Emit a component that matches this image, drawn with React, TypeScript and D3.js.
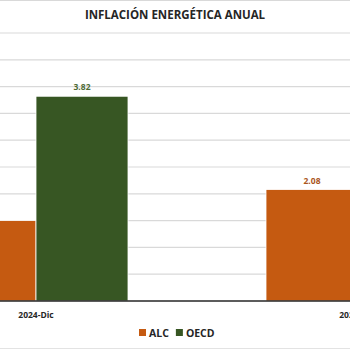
import { useEffect, useRef } from 'react';
import * as d3 from 'd3';

const categories = ['2024-Dic', '2025-Ene'];
const seriesNames = ['ALC', 'OECD'];
const alcValues = [1.5, 2.08];
const oecdValues = [3.82, 1.2];
const yTicks = [0, 0.5, 1, 1.5, 2, 2.5, 3, 3.5, 4, 4.5, 5];

const colors: Record<string, string> = {
  ALC: '#C55A11',
  OECD: '#375623'
};

export default function App() {
  const svgRef = useRef<SVGSVGElement>(null);

  useEffect(() => {
    if (!svgRef.current) return;
    const svg = d3.select(svgRef.current);
    svg.selectAll('*').remove();

    const width = 350;
    const height = 350;
    const font = '"Open Sans", "Liberation Sans", sans-serif';

    // Background
    svg.append('rect').attr('width', width).attr('height', height).attr('fill', '#fff');

    // Scales (the chart is wider than the viewport, so the range runs past it)
    const x0 = d3.scaleBand()
      .domain(categories)
      .range([-125, 519])
      .paddingInner(0.4286)
      .paddingOuter(0.2143);

    const x1 = d3.scaleBand()
      .domain(seriesNames)
      .range([0, x0.bandwidth()]);

    const y = d3.scaleLinear()
      .domain([0, 5])
      .range([301, 33]);

    // Grid lines
    svg.append('g')
      .selectAll('line')
      .data(yTicks.filter(t => t > 0))
      .enter()
      .append('line')
      .attr('x1', 0)
      .attr('x2', width)
      .attr('y1', d => y(d))
      .attr('y2', d => y(d))
      .attr('stroke', '#D9D9D9')
      .attr('stroke-width', 1.2);

    // Frame lines at top and bottom edge
    svg.append('line').attr('x1', 0).attr('x2', width).attr('y1', 0.5).attr('y2', 0.5)
      .attr('stroke', '#D9D9D9').attr('stroke-width', 1);
    svg.append('line').attr('x1', 0).attr('x2', width).attr('y1', 348.5).attr('y2', 348.5)
      .attr('stroke', '#E3E3E3').attr('stroke-width', 1);

    // Title
    svg.append('text')
      .attr('x', 175)
      .attr('y', 19)
      .attr('text-anchor', 'middle')
      .attr('font-family', font)
      .attr('font-weight', 700)
      .attr('font-size', '11.5px')
      .attr('fill', '#262626')
      .text('INFLACIÓN ENERGÉTICA ANUAL');

    const rows = categories.map((c, i) => ({
      category: c,
      values: [
        { key: 'ALC', value: alcValues[i] },
        { key: 'OECD', value: oecdValues[i] }
      ]
    }));

    const groups = svg.append('g')
      .selectAll('g')
      .data(rows)
      .enter()
      .append('g')
      .attr('transform', d => `translate(${x0(d.category)},0)`);

    groups.selectAll('rect')
      .data(d => d.values)
      .enter()
      .append('rect')
      .attr('x', d => x1(d.key) || 0)
      .attr('width', x1.bandwidth())
      .attr('y', d => y(d.value))
      .attr('height', d => y(0) - y(d.value))
      .attr('fill', d => colors[d.key])
      .attr('stroke', '#fff')
      .attr('stroke-width', 0.8);

    // Value labels
    groups.selectAll('text.val')
      .data(d => d.values)
      .enter()
      .append('text')
      .attr('class', 'val')
      .attr('x', d => (x1(d.key) || 0) + x1.bandwidth() / 2)
      .attr('y', d => y(d.value) - 6)
      .attr('text-anchor', 'middle')
      .attr('font-family', font)
      .attr('font-weight', 700)
      .attr('font-size', '8.5px')
      .attr('fill', d => d.key === 'ALC' ? '#A9551C' : '#4E6B35')
      .text(d => d.value.toFixed(2));

    // Baseline
    svg.append('line')
      .attr('x1', 0)
      .attr('x2', width)
      .attr('y1', y(0))
      .attr('y2', y(0))
      .attr('stroke', '#262626')
      .attr('stroke-width', 1.5);

    // Category labels
    svg.append('g')
      .selectAll('text')
      .data(categories)
      .enter()
      .append('text')
      .attr('x', d => (x0(d) || 0) + x0.bandwidth() / 2)
      .attr('y', 318)
      .attr('text-anchor', 'middle')
      .attr('font-family', font)
      .attr('font-weight', 700)
      .attr('font-size', '8.5px')
      .attr('fill', '#262626')
      .text(d => d);

    // Legend
    const legend = svg.append('g').attr('transform', 'translate(139, 329)');
    let lx = 0;
    seriesNames.forEach(name => {
      legend.append('rect')
        .attr('x', lx)
        .attr('y', 0)
        .attr('width', 7)
        .attr('height', 7)
        .attr('fill', colors[name]);
      const t = legend.append('text')
        .attr('x', lx + 10)
        .attr('y', 8)
        .attr('font-family', font)
        .attr('font-weight', 700)
        .attr('font-size', '10.5px')
        .attr('fill', '#262626')
        .text(name);
      const w = (t.node() as SVGTextElement).getComputedTextLength();
      lx += 10 + w + 7;
    });
  }, []);

  return (
    <div style={{ position: 'absolute', left: 0, top: 0 }}>
      <svg ref={svgRef} width={350} height={350} style={{ display: 'block' }} />
    </div>
  );
}
